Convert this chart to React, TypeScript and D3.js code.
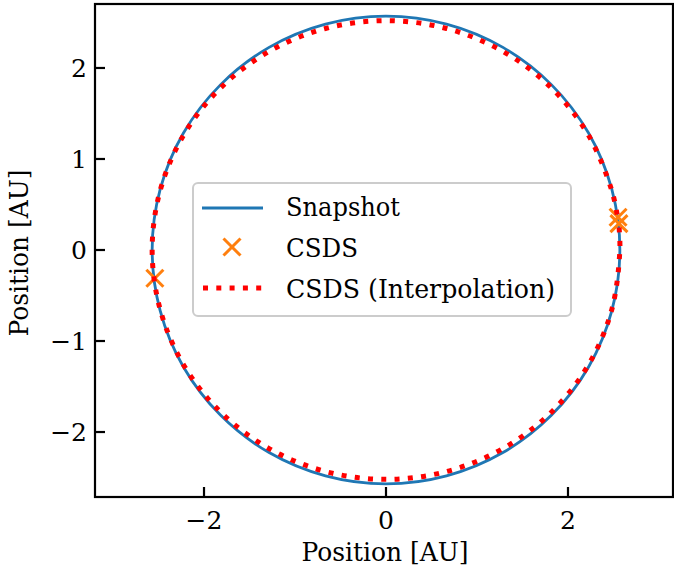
import React from "react";
import * as d3 from "d3";

// Snapshot orbit samples (AU)
const snapshotX = [2.57, 2.482, 2.226, 1.817, 1.285, 0.665, 0, -0.665, -1.285, -1.817, -2.226, -2.482, -2.57, -2.482, -2.226, -1.817, -1.285, -0.665, 0, 0.665, 1.285, 1.817, 2.226, 2.482];
const snapshotY = [0, 0.665, 1.285, 1.817, 2.226, 2.482, 2.57, 2.482, 2.226, 1.817, 1.285, 0.665, 0, -0.665, -1.285, -1.817, -2.226, -2.482, -2.57, -2.482, -2.226, -1.817, -1.285, -0.665];

// CSDS particle records (AU)
const csdsX = [2.55, 2.56, -2.54];
const csdsY = [0.36, 0.29, -0.31];

// CSDS interpolated orbit (AU)
const interpX = [2.54, 2.482, 2.226, 1.817, 1.285, 0.665, 0, -0.665, -1.285, -1.817, -2.226, -2.482, -2.57, -2.482, -2.226, -1.817, -1.285, -0.665, 0, 0.665, 1.285, 1.817, 2.226, 2.482, 2.57, 2.56];
const interpY = [0.39, 0.652, 1.26, 1.782, 2.182, 2.434, 2.52, 2.434, 2.182, 1.782, 1.26, 0.652, 0, -0.652, -1.26, -1.782, -2.182, -2.434, -2.52, -2.434, -2.182, -1.782, -1.26, -0.652, 0, 0.26];

const xTicks = [-2, 0, 2];
const yTicks = [-2, -1, 0, 1, 2];

const W = 674, H = 576;
const L = 95, R = 673, T = 4, B = 497;
const BLUE = "#1f77b4", ORANGE = "#ff7f0e", RED = "#ff0000";
const FONT = "DejaVu Serif, serif";

export default function App() {
  const x = d3.scaleLinear().domain([-3.198, 3.154]).range([L, R]);
  const y = d3.scaleLinear().domain([-2.714, 2.703]).range([B, T]);

  const snapPts: [number, number][] = snapshotX.map((v, i) => [x(v), y(snapshotY[i])]);
  const interpPts: [number, number][] = interpX.map((v, i) => [x(v), y(interpY[i])]);
  const closed = d3.line().curve(d3.curveCatmullRomClosed.alpha(0.5));
  const open = d3.line().curve(d3.curveCatmullRom.alpha(0.5));

  const cross = (cx: number, cy: number, s: number, key: any) => (
    <g key={key} stroke={ORANGE} strokeWidth={3}>
      <line x1={cx - s} y1={cy - s} x2={cx + s} y2={cy + s} />
      <line x1={cx - s} y1={cy + s} x2={cx + s} y2={cy - s} />
    </g>
  );

  const fmt = (v: number) => (v < 0 ? "\u2212" + Math.abs(v) : String(v));

  return (
    <svg width={W} height={H} style={{ position: "absolute", left: 0, top: 0, background: "#fff" }}>
      <defs>
        <clipPath id="plot">
          <rect x={L} y={T} width={R - L} height={B - T} />
        </clipPath>
      </defs>
      <g clipPath="url(#plot)">
        <path d={closed(snapPts) || ""} fill="none" stroke={BLUE} strokeWidth={2.8} />
        {csdsX.map((v, i) => cross(x(v), y(csdsY[i]), 8.5, i))}
        <path d={open(interpPts) || ""} fill="none" stroke={RED} strokeWidth={5} strokeDasharray="5 8.3" />
      </g>

      {/* spines */}
      <rect x={L} y={T} width={R - L} height={B - T} fill="none" stroke="#000" strokeWidth={2.2} />

      {/* x ticks */}
      {xTicks.map((t) => (
        <g key={"x" + t}>
          <line x1={x(t)} x2={x(t)} y1={B} y2={B - 10} stroke="#000" strokeWidth={2.2} />
          <text x={x(t)} y={529} textAnchor="middle" fontFamily={FONT} fontSize={25}>{fmt(t)}</text>
        </g>
      ))}
      {/* y ticks */}
      {yTicks.map((t) => (
        <g key={"y" + t}>
          <line x1={L} x2={L + 10} y1={y(t)} y2={y(t)} stroke="#000" strokeWidth={2.2} />
          <text x={87} y={y(t) + 9} textAnchor="end" fontFamily={FONT} fontSize={25}>{fmt(t)}</text>
        </g>
      ))}

      {/* axis labels */}
      <text x={385} y={561} textAnchor="middle" fontFamily={FONT} fontSize={26} textLength={167} lengthAdjust="spacingAndGlyphs">Position [AU]</text>
      <text transform={`translate(28,253) rotate(-90)`} textAnchor="middle" fontFamily={FONT} fontSize={26} textLength={167} lengthAdjust="spacingAndGlyphs">Position [AU]</text>

      {/* legend */}
      <g>
        <rect x={193} y={183} width={378} height={133} rx={5} ry={5} fill="#fff" fillOpacity={0.8} stroke="#cccccc" strokeWidth={2} />
        <line x1={202} x2={263} y1={208} y2={208} stroke={BLUE} strokeWidth={2.8} />
        <text x={286} y={216} fontFamily={FONT} fontSize={26} textLength={114} lengthAdjust="spacingAndGlyphs">Snapshot</text>
        {cross(232, 247, 8.5, "leg")}
        <text x={286} y={257} fontFamily={FONT} fontSize={26} textLength={72} lengthAdjust="spacingAndGlyphs">CSDS</text>
        <line x1={203} x2={263} y1={288} y2={288} stroke={RED} strokeWidth={5} strokeDasharray="5 8.3" />
        <text x={286} y={298} fontFamily={FONT} fontSize={26} textLength={269} lengthAdjust="spacingAndGlyphs">CSDS (Interpolation)</text>
      </g>
    </svg>
  );
}
